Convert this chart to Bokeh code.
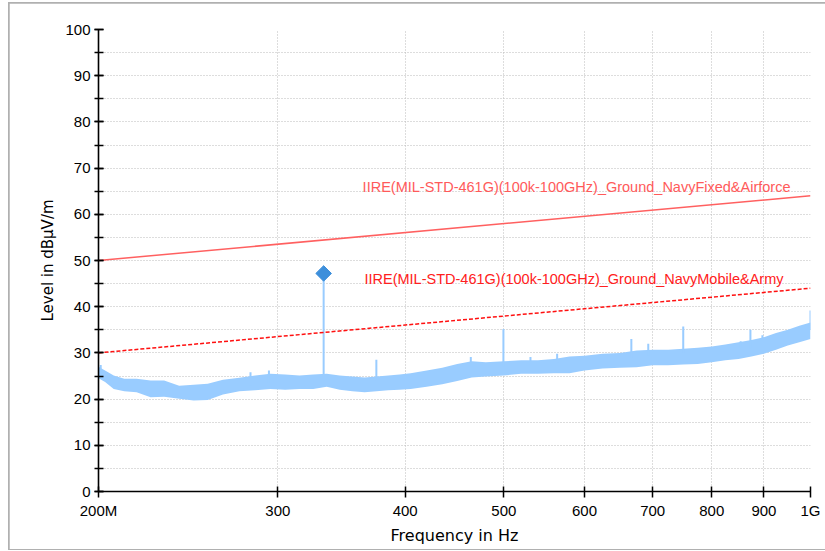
from bokeh.plotting import figure
from bokeh.models import Range1d, FixedTicker, ColumnDataSource
from bokeh.core.properties import value
from bokeh.embed import file_html
from bokeh.resources import INLINE

# ---- data (frequency in MHz, level in dBuV/m) ----
band_freq = [200, 203, 207, 212, 218, 225, 232, 240, 248, 256, 265, 275, 285, 295,
             305, 315, 325, 335, 345, 355, 365, 375, 385, 395, 405, 420, 435, 450,
             465, 480, 500, 520, 540, 560, 580, 600, 625, 650, 675, 700, 725, 750,
             775, 800, 825, 850, 875, 900, 925, 950, 975, 1000]
band_high = [27.0, 26.2, 25.1, 24.4, 24.4, 24.0, 24.0, 22.9, 23.1, 23.3, 24.2, 24.6, 25.1, 25.5,
             25.3, 25.1, 25.3, 25.5, 25.1, 24.9, 24.7, 24.9, 25.1, 25.3, 25.6, 26.2, 26.8, 27.6,
             28.2, 28.0, 28.2, 28.4, 28.4, 28.7, 29.2, 29.4, 29.8, 30.0, 30.5, 30.7, 30.7, 30.9,
             31.1, 31.4, 31.8, 32.3, 32.8, 33.4, 34.3, 35.0, 35.9, 36.6]
band_low = [24.5, 23.7, 22.2, 21.7, 21.5, 20.4, 20.5, 20.1, 19.7, 19.8, 21.0, 21.7, 21.9, 22.2,
            22.0, 22.2, 22.2, 22.7, 22.0, 21.7, 21.5, 21.7, 21.9, 22.0, 22.2, 22.7, 23.2, 23.9,
            24.7, 24.9, 25.1, 25.5, 25.5, 25.6, 25.6, 26.2, 26.6, 26.8, 26.9, 27.3, 27.3, 27.5,
            27.6, 28.0, 28.4, 28.7, 29.2, 29.8, 30.7, 31.6, 32.3, 33.0]

spike_freq = [201.0, 282.0, 294.0, 332.7, 374.8, 464.0, 499.5, 531.0, 564.0,
              667.0, 693.0, 750.0, 854.0, 873.0, 897.0, 1000.0]
spike_base = [25.0, 23.0, 23.5, 24.0, 24.0, 26.5, 27.0, 27.5, 28.0,
              29.0, 29.5, 30.0, 31.0, 31.0, 31.5, 35.0]
spike_level = [27.4, 25.8, 26.2, 47.2, 28.5, 29.1, 35.2, 29.1, 29.8,
               33.0, 32.0, 35.7, 32.5, 35.0, 33.8, 39.2]

peak_freq = [332.7]
peak_level = [47.2]

limit_freq = [200, 1000]
limit_fixed = [50, 64]
limit_mobile = [30, 44]
limit_names = ["IIRE(MIL-STD-461G)(100k-100GHz)_Ground_NavyFixed&Airforce",
               "IIRE(MIL-STD-461G)(100k-100GHz)_Ground_NavyMobile&Army"]

x_ticks = [200, 300, 400, 500, 600, 700, 800, 900, 1000]
x_tick_labels = ["200M", "300", "400", "500", "600", "700", "800", "900", "1G"]
y_ticks = list(range(0, 101, 10))
y_minor_ticks = list(range(0, 101, 5))

# ---- figure ----
p = figure(width=818, height=546, x_axis_type="log",
           x_range=Range1d(200, 1000), y_range=Range1d(0, 100),
           output_backend="svg", toolbar_location=None,
           min_border_left=89, min_border_right=17, min_border_top=26, min_border_bottom=58)
p.margin = (3, 0, 0, 9)
p.styles = {"outline": "2px solid #B0B0B0", "outline-offset": "-1px"}
p.background_fill_color = "white"
p.border_fill_color = "white"
p.outline_line_color = None

grid_color = "#BBBBBB"
p.xgrid.ticker = FixedTicker(ticks=x_ticks[1:])
p.ygrid.ticker = FixedTicker(ticks=y_minor_ticks[1:])
for g in (p.xgrid[0], p.ygrid[0]):
    g.grid_line_color = grid_color
    g.grid_line_dash = "1 2"
    g.grid_line_width = 1

xa = p.xaxis[0]
xa.ticker = FixedTicker(ticks=x_ticks, minor_ticks=[])
xa.major_label_overrides = {t: l for t, l in zip(x_ticks, x_tick_labels)}
xa.axis_label = "Frequency in Hz"
xa.major_tick_in = 5
xa.major_tick_out = 6
xa.major_label_standoff = 4

ya = p.yaxis[0]
ya.ticker = FixedTicker(ticks=y_ticks, minor_ticks=y_minor_ticks)
ya.axis_label = "Level in dBµV/m"
ya.major_tick_in = 5
ya.major_tick_out = 4
ya.minor_tick_in = 5
ya.minor_tick_out = 4
ya.major_label_standoff = 4

for ax in (xa, ya):
    ax.axis_line_color = "black"
    ax.axis_line_width = 1.6
    ax.major_tick_line_color = "black"
    ax.major_tick_line_width = 1.5
    ax.minor_tick_line_color = "black"
    ax.minor_tick_line_width = 1.5
    ax.major_label_text_font = "Liberation Sans"
    ax.major_label_text_font_size = "15px"
    ax.major_label_text_color = "black"
    ax.axis_label_text_font = "DejaVu Sans"
    ax.axis_label_text_font_style = "normal"
    ax.axis_label_text_color = "black"
xa.axis_label_text_font_size = "16px"
xa.axis_label_standoff = 4
ya.axis_label_text_font_size = "15px"
ya.axis_label_standoff = 5

trace_color = "#99CCFF"
p.varea(x=band_freq, y1=band_low, y2=band_high, fill_color=trace_color, fill_alpha=1.0)
p.segment(x0=spike_freq, y0=spike_base, x1=spike_freq, y1=spike_level,
          line_color=trace_color, line_width=2)

p.line(limit_freq, limit_fixed, line_color="#FF6060", line_width=1.5)
p.line(limit_freq, limit_mobile, line_color="#FF1010", line_width=1.5, line_dash="4 2")

label_src = ColumnDataSource(dict(
    x=[955.8, 940.8],
    y=[limit_fixed[1] + 2.0, limit_mobile[1] + 2.1],
    text=limit_names,
    color=["#FF5A5A", "#FF2020"],
))
p.text(x="x", y="y", text="text", source=label_src, text_color="color",
       text_align="right", text_baseline="middle",
       text_font=value("Liberation Sans"), text_font_size="14.5px")

p.scatter(peak_freq, peak_level, marker="square", size=11, angle=0.785398,
          fill_color="#3D8FDB", line_color="#3D8FDB")

open("out.html", "w").write(file_html(p, INLINE))
